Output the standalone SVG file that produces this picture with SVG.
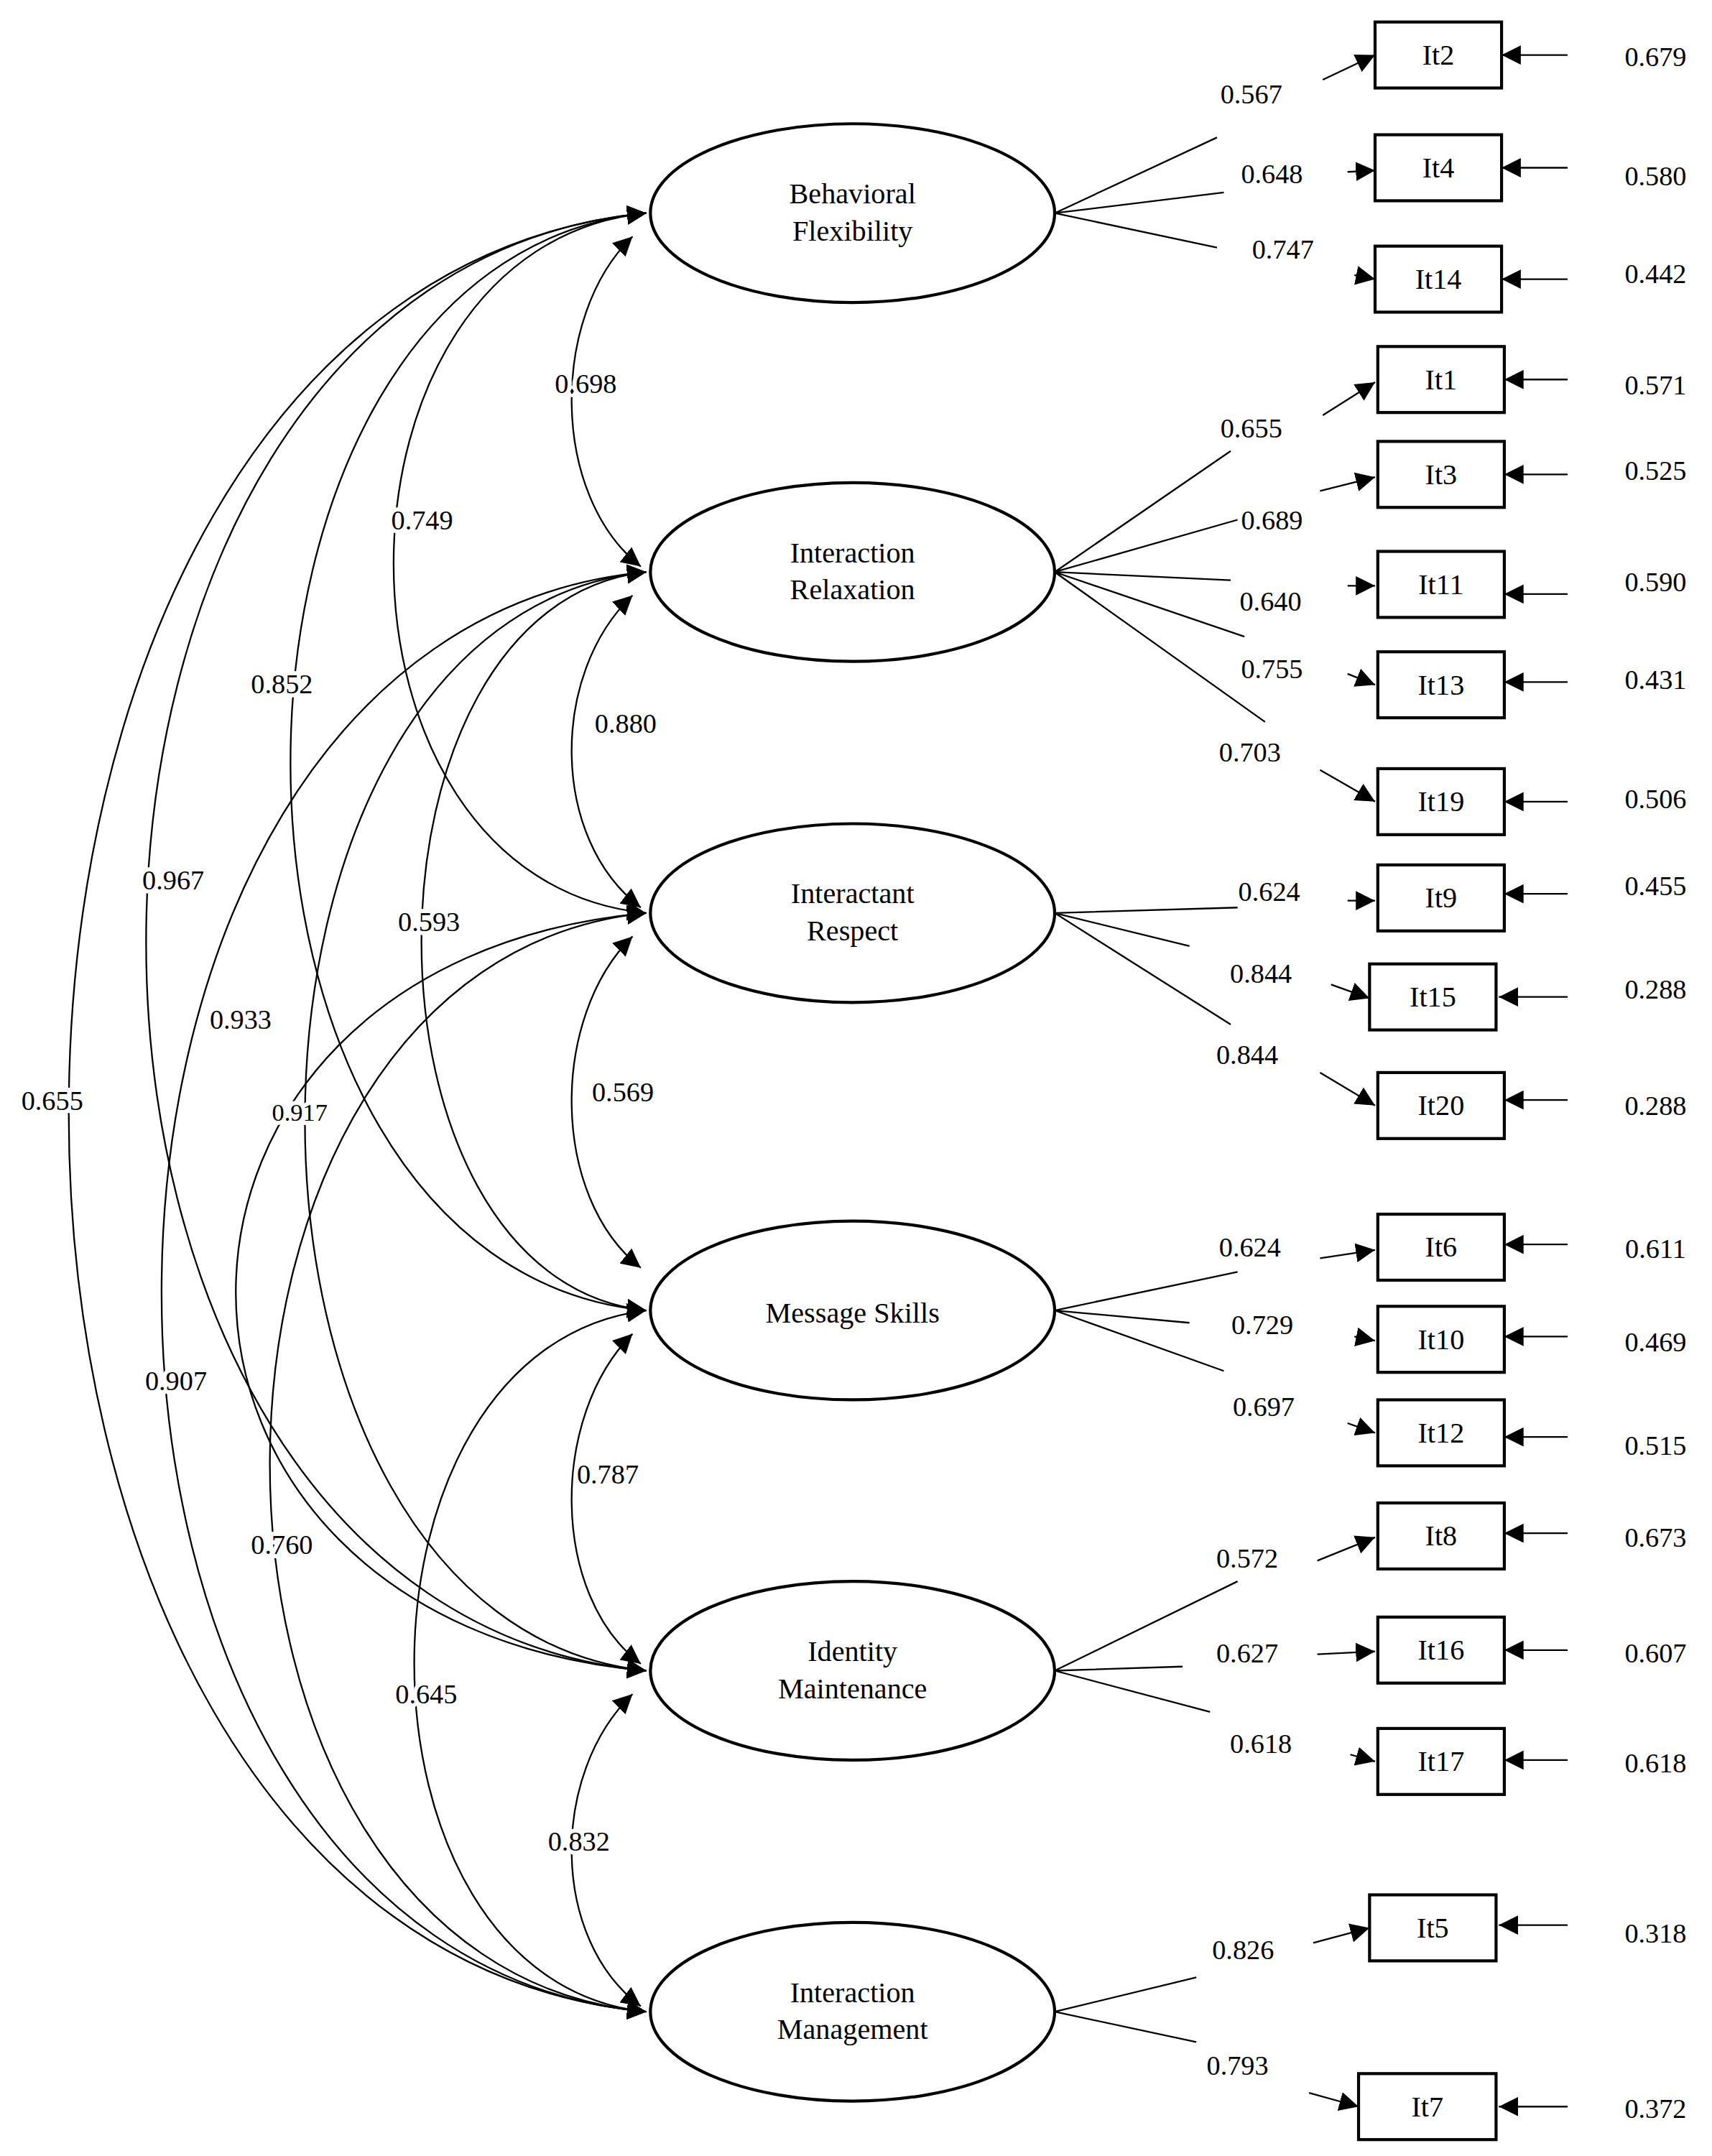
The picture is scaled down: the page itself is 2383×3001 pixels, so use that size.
<svg xmlns="http://www.w3.org/2000/svg" width="2383" height="3001" viewBox="0 0 2383 3001">
<style>
text{font-family:"Liberation Serif","DejaVu Serif",serif;font-size:20px;fill:#000}
.n{text-anchor:middle;font-size:21px}
.h{stroke:#fff;stroke-width:6px;paint-order:stroke}
.e{fill:#fff;stroke:#000;stroke-width:2.2}
.b{fill:#fff;stroke:#000;stroke-width:2.2}
.l{fill:none;stroke:#000;stroke-width:1.2}
.a{fill:none;stroke:#000;stroke-width:1.2;marker-end:url(#ar)}
.c{fill:none;stroke:#000;stroke-width:1.2;marker-start:url(#ar);marker-end:url(#ar)}
</style>
<defs>
<marker id="ar" viewBox="0 0 10 10" refX="10" refY="5" markerWidth="14" markerHeight="14" markerUnits="userSpaceOnUse" orient="auto-start-reverse"><path d="M0,0 L10,5 L0,10 z" fill="#000"/></marker>
</defs>
<rect width="2383" height="3001" fill="#fff"/>
<g transform="scale(1.914)">
<g id="connectors">
<path class="c" d="M460,172 C400,230 400,360 466,412"/>
<path class="c" d="M460,433 C400,490 400,610 466,660"/>
<path class="c" d="M460,681 C400,740 400,870 466,922"/>
<path class="c" d="M460,970 C400,1030 400,1160 466,1210"/>
<path class="c" d="M460,1232 C400,1290 400,1410 466,1459"/>
<path class="c" d="M470,155 C225,180 225,640 470,664"/>
<path class="c" d="M470,155 C125,190 125,920 470,953"/>
<path class="c" d="M470,155 C-15,200 -15,1170 470,1215"/>
<path class="c" d="M470,155 C-90,210 -90,1410 470,1463"/>
<path class="c" d="M470,416 C252,440 252,930 470,953"/>
<path class="c" d="M470,416 C139,450 139,1180 470,1215"/>
<path class="c" d="M470,416 C0,460 0,1420 470,1463"/>
<path class="c" d="M470,664 C72,700 72,1180 470,1215"/>
<path class="c" d="M470,664 C105,700 105,1430 470,1463"/>
<path class="c" d="M470,953 C245,980 245,1440 470,1463"/>
<path class="l" d="M767,155 L885,100 M767,155 L890,140 M767,155 L885,180"/>
<path class="a" d="M962,58 L1000,40"/><path class="a" d="M980,125 L1000,124"/><path class="a" d="M985,200 L1000,203"/>
<path class="l" d="M767,416 L895,328 M767,416 L900,378 M767,416 L895,422 M767,416 L905,463 M767,416 L920,525"/>
<path class="a" d="M962,302 L1000,278"/><path class="a" d="M960,357 L1000,347"/><path class="a" d="M980,426 L1000,426"/><path class="a" d="M980,490 L1000,498"/><path class="a" d="M960,560 L1000,583"/>
<path class="l" d="M767,664 L900,660 M767,664 L865,688 M767,664 L895,745"/>
<path class="a" d="M980,655 L1000,655"/><path class="a" d="M968,716 L996,726"/><path class="a" d="M960,780 L1000,804"/>
<path class="l" d="M767,953 L900,925 M767,953 L865,962 M767,953 L890,997"/>
<path class="a" d="M960,915 L1000,909"/><path class="a" d="M985,972 L1000,975"/><path class="a" d="M980,1035 L1000,1042"/>
<path class="l" d="M767,1215 L900,1150 M767,1215 L860,1212 M767,1215 L880,1245"/>
<path class="a" d="M958,1135 L1000,1118"/><path class="a" d="M958,1203 L1000,1201"/><path class="a" d="M982,1276 L1000,1281"/>
<path class="l" d="M767,1463 L870,1438 M767,1463 L870,1485"/>
<path class="a" d="M955,1413 L996,1402"/><path class="a" d="M952,1522 L988,1532"/>
<path class="a" d="M1140,40 L1092,40"/><path class="a" d="M1140,122 L1092,122"/><path class="a" d="M1140,203 L1092,203"/><path class="a" d="M1140,276 L1094,276"/><path class="a" d="M1140,345 L1094,345"/><path class="a" d="M1140,432 L1094,432"/><path class="a" d="M1140,496 L1094,496"/><path class="a" d="M1140,583 L1094,583"/><path class="a" d="M1140,650 L1094,650"/><path class="a" d="M1140,725 L1090,725"/><path class="a" d="M1140,800 L1094,800"/><path class="a" d="M1140,905 L1094,905"/><path class="a" d="M1140,972 L1094,972"/><path class="a" d="M1140,1045 L1094,1045"/><path class="a" d="M1140,1115 L1094,1115"/><path class="a" d="M1140,1200 L1094,1200"/><path class="a" d="M1140,1280 L1094,1280"/><path class="a" d="M1140,1400 L1090,1400"/><path class="a" d="M1140,1532 L1090,1532"/>
</g>
<g id="BF"><ellipse class="e" cx="620" cy="155" rx="147" ry="65"/><text class="n" x="620" y="148">Behavioral</text><text class="n" x="620" y="175">Flexibility</text></g>
<g id="IR"><ellipse class="e" cx="620" cy="416" rx="147" ry="65"/><text class="n" x="620" y="409">Interaction</text><text class="n" x="620" y="436">Relaxation</text></g>
<g id="IRS"><ellipse class="e" cx="620" cy="664" rx="147" ry="65"/><text class="n" x="620" y="657">Interactant</text><text class="n" x="620" y="684">Respect</text></g>
<g id="MS"><ellipse class="e" cx="620" cy="953" rx="147" ry="65"/><text class="n" x="620" y="962">Message Skills</text></g>
<g id="IM"><ellipse class="e" cx="620" cy="1215" rx="147" ry="65"/><text class="n" x="620" y="1208">Identity</text><text class="n" x="620" y="1235">Maintenance</text></g>
<g id="IMG"><ellipse class="e" cx="620" cy="1463" rx="147" ry="65"/><text class="n" x="620" y="1456">Interaction</text><text class="n" x="620" y="1483">Management</text></g>
<g id="items">
<rect class="b" x="1000" y="16" width="92" height="48"/><text class="n" x="1046" y="47">It2</text>
<rect class="b" x="1000" y="98" width="92" height="48"/><text class="n" x="1046" y="129">It4</text>
<rect class="b" x="1000" y="179" width="92" height="48"/><text class="n" x="1046" y="210">It14</text>
<rect class="b" x="1002" y="252" width="92" height="48"/><text class="n" x="1048" y="283">It1</text>
<rect class="b" x="1002" y="321" width="92" height="48"/><text class="n" x="1048" y="352">It3</text>
<rect class="b" x="1002" y="401" width="92" height="48"/><text class="n" x="1048" y="432">It11</text>
<rect class="b" x="1002" y="474" width="92" height="48"/><text class="n" x="1048" y="505">It13</text>
<rect class="b" x="1002" y="559" width="92" height="48"/><text class="n" x="1048" y="590">It19</text>
<rect class="b" x="1002" y="629" width="92" height="48"/><text class="n" x="1048" y="660">It9</text>
<rect class="b" x="996" y="701" width="92" height="48"/><text class="n" x="1042" y="732">It15</text>
<rect class="b" x="1002" y="780" width="92" height="48"/><text class="n" x="1048" y="811">It20</text>
<rect class="b" x="1002" y="883" width="92" height="48"/><text class="n" x="1048" y="914">It6</text>
<rect class="b" x="1002" y="950" width="92" height="48"/><text class="n" x="1048" y="981">It10</text>
<rect class="b" x="1002" y="1018" width="92" height="48"/><text class="n" x="1048" y="1049">It12</text>
<rect class="b" x="1002" y="1093" width="92" height="48"/><text class="n" x="1048" y="1124">It8</text>
<rect class="b" x="1002" y="1176" width="92" height="48"/><text class="n" x="1048" y="1207">It16</text>
<rect class="b" x="1002" y="1257" width="92" height="48"/><text class="n" x="1048" y="1288">It17</text>
<rect class="b" x="996" y="1378" width="92" height="48"/><text class="n" x="1042" y="1409">It5</text>
<rect class="b" x="988" y="1508" width="100" height="48"/><text class="n" x="1038" y="1539">It7</text>
</g>
<g id="labels" text-anchor="middle">
<text x="910" y="75">0.567</text><text x="925" y="133">0.648</text><text x="933" y="188">0.747</text>
<text x="910" y="318">0.655</text><text x="925" y="385">0.689</text><text x="924" y="444">0.640</text><text x="925" y="493">0.755</text><text x="909" y="554">0.703</text>
<text x="923" y="655">0.624</text><text x="917" y="715">0.844</text><text x="907" y="774">0.844</text>
<text x="909" y="914">0.624</text><text x="918" y="970">0.729</text><text x="919" y="1030">0.697</text>
<text x="907" y="1140">0.572</text><text x="907" y="1209">0.627</text><text x="917" y="1275">0.618</text>
<text x="904" y="1425">0.826</text><text x="900" y="1509">0.793</text>
<text x="1204" y="48">0.679</text><text x="1204" y="135">0.580</text><text x="1204" y="206">0.442</text><text x="1204" y="287">0.571</text><text x="1204" y="349">0.525</text><text x="1204" y="430">0.590</text><text x="1204" y="501">0.431</text><text x="1204" y="588">0.506</text><text x="1204" y="651">0.455</text><text x="1204" y="726">0.288</text><text x="1204" y="811">0.288</text><text x="1204" y="915">0.611</text><text x="1204" y="983">0.469</text><text x="1204" y="1058">0.515</text><text x="1204" y="1125">0.673</text><text x="1204" y="1209">0.607</text><text x="1204" y="1289">0.618</text><text x="1204" y="1413">0.318</text><text x="1204" y="1540">0.372</text>
<text class="h" x="426" y="286">0.698</text><text class="h" x="307" y="385">0.749</text><text class="h" x="205" y="504">0.852</text><text class="h" x="126" y="647">0.967</text><text class="h" x="38" y="807">0.655</text>
<text class="h" x="455" y="533">0.880</text><text class="h" x="312" y="677">0.593</text><text class="h" x="175" y="748">0.933</text><text class="h" x="218" y="815" style="font-size:18px">0.917</text><text class="h" x="128" y="1011">0.907</text>
<text class="h" x="453" y="801">0.569</text><text class="h" x="205" y="1130">0.760</text><text class="h" x="442" y="1079">0.787</text><text class="h" x="310" y="1239">0.645</text><text class="h" x="421" y="1346">0.832</text>
</g>
</g>
</svg>
